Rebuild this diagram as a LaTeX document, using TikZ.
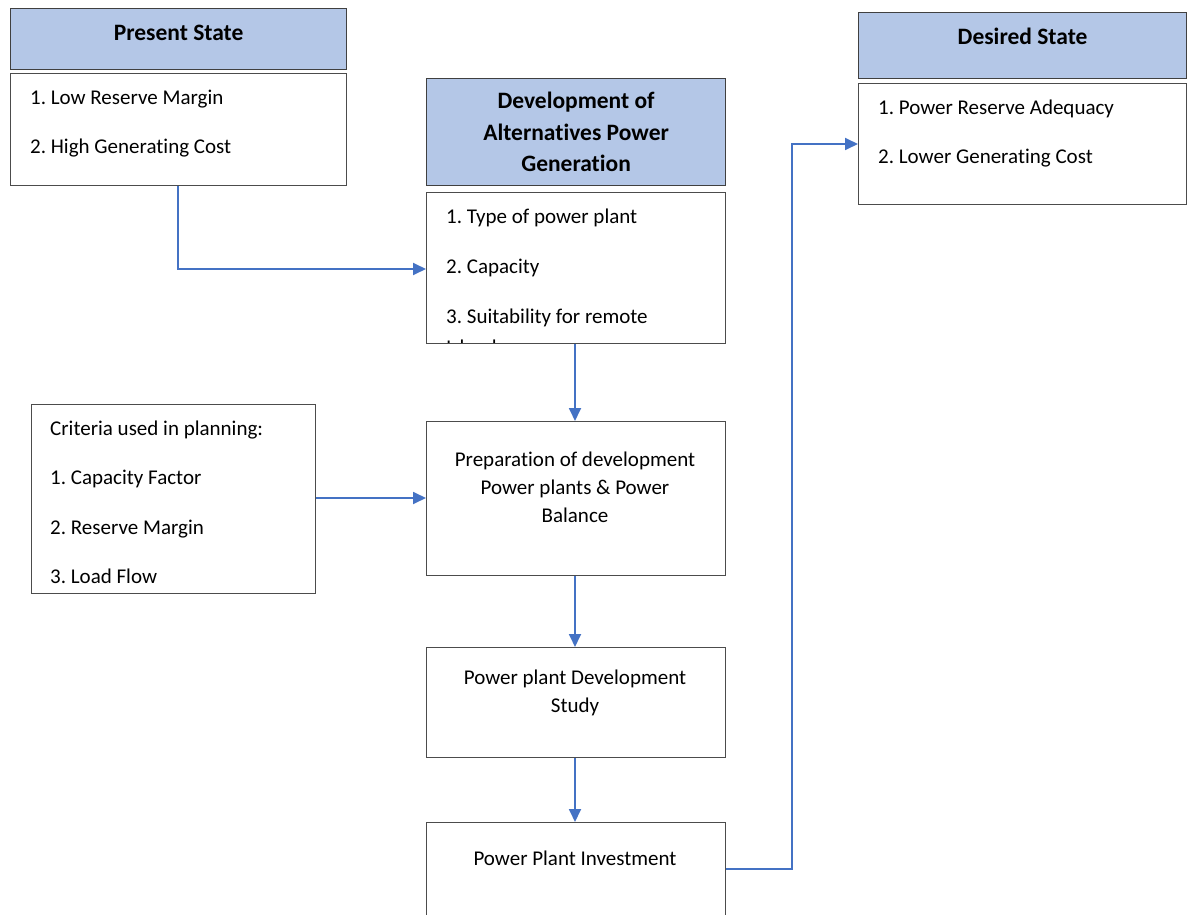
\documentclass[tikz,border=0pt]{standalone}
\usepackage{fontspec}
\setmainfont{Carlito}[Ligatures=NoCommon]
\usepackage{xcolor}
\usetikzlibrary{arrows.meta,positioning}
\definecolor{headfill}{HTML}{B4C7E7}
\definecolor{flowblue}{HTML}{4472C4}
\frenchspacing

\begin{document}
\begin{tikzpicture}[
  x=1pt, y=-1pt,
  every node/.style={font=\fontsize{21}{28}\selectfont},
  headbox/.style={draw=black!75, line width=1.2pt, fill=headfill,
    anchor=north west, inner sep=0pt, align=center, font=\fontsize{23.5}{31.5}\selectfont\bfseries},
  bodybox/.style={draw=black!70, line width=1.1pt, fill=white,
    anchor=north west, inner sep=0pt, align=center},
  item/.style={anchor=base west, inner sep=0pt},
  flow/.style={-{Triangle[length=13pt, width=12pt]}, draw=flowblue, line width=1.8pt},
]
\useasboundingbox (0,0) rectangle (1187,915);

% present state
\node[headbox, minimum width=336pt, minimum height=61pt, text depth=13pt] (preshead) at (10,8) {Present State};
\node[bodybox, minimum width=336pt, minimum height=112pt] (presbody) at (10,73) {};
\node[item] (pres1) at (30,105) {1. Low Reserve Margin};
\node[item] (pres2) at (30,154) {2. High Generating Cost};

% desired state
\node[headbox, minimum width=328pt, minimum height=66pt, text depth=19pt] (deshead) at (858,12) {Desired State};
\node[bodybox, minimum width=328pt, minimum height=121pt] (desbody) at (858,83) {};
\node[item] (des1) at (878,115) {1. Power Reserve Adequacy};
\node[item] (des2) at (878,164) {2. Lower Generating Cost};

% development of alternatives
\node[headbox, minimum width=299pt, minimum height=107pt] (devhead) at (426,78)
  {Development of\\Alternatives Power\\Generation};
\node[bodybox, minimum width=299pt, minimum height=151pt] (devbody) at (426,192) {};
\node[item] (dev1) at (446,223) {1. Type of power plant};
\node[item] (dev2) at (446,273) {2. Capacity};
\node[item] (dev3) at (446,323) {3. Suitability for remote};
\begin{scope}
  \clip (426,192) rectangle (725,342);
  \node[item] (dev4) at (446,354) {Island};
\end{scope}

% criteria
\node[bodybox, minimum width=284pt, minimum height=189pt] (crit) at (31,404) {};
\node[item] (crit0) at (50,435) {Criteria used in planning:};
\node[item] (crit1) at (50,484) {1. Capacity Factor};
\node[item] (crit2) at (50,534) {2. Reserve Margin};
\node[item] (crit3) at (50,583) {3. Load Flow};

% main column
\node[bodybox, minimum width=299pt, minimum height=154pt] (prep) at (426,421) {};
\node[align=center, inner sep=0pt, anchor=north] (preptext) at (575,452)
  {Preparation of development\\Power plants \& Power\\Balance};
\node[bodybox, minimum width=299pt, minimum height=110pt] (study) at (426,647) {};
\node[align=center, inner sep=0pt, anchor=north] (studytext) at (575,670)
  {Power plant Development\\Study};
\node[bodybox, minimum width=299pt, minimum height=110pt] (invest) at (426,822) {};
\node[inner sep=0pt, anchor=base] (investtext) at (575,865) {Power Plant Investment};

% connectors
\draw[flow] (presbody.south -| 178,0) |- (devbody.west |- 0,269);
\draw[flow] (devbody.south -| 575,0) -- (prep.north -| 575,0);
\draw[flow] (crit.east |- 0,498) -- (prep.west |- 0,498);
\draw[flow] (prep.south -| 575,0) -- (study.north -| 575,0);
\draw[flow] (study.south -| 575,0) -- (invest.north -| 575,0);
\draw[flow] (invest.east |- 0,869) -- (792,869) |- (desbody.west |- 0,144);
\end{tikzpicture}
\end{document}
